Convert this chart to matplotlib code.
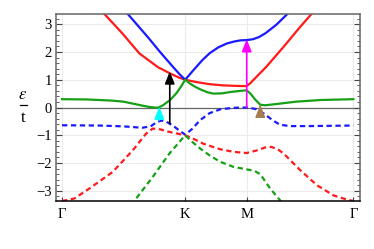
import numpy as np
import matplotlib
matplotlib.use('Agg')
import matplotlib.pyplot as plt
from matplotlib.lines import Line2D
from matplotlib.ticker import MultipleLocator

plt.rcParams.update({'font.family': 'Liberation Serif', 'mathtext.fontset': 'stix',
                     'font.size': 10.5})

# symmetry points along Gamma-K-M-Gamma (|GK| = 1)
K, M = 1.0, 1.5
G2 = M + np.sqrt(3) / 2
sym_pos = [0.0, K, M, G2]
sym_lab = ['Γ', 'K', 'M', 'Γ']

# conduction-like bands (solid)
red_x = [0.30, 0.344, 0.49, 0.628, 0.78, 0.85, 0.90, 0.95, 1.0, 1.1, 1.2, 1.3, 1.4, 1.5,
         1.53, 1.6, 1.66, 1.8, 1.935, 2.03, 2.06]
red_y = [3.55, 3.37, 2.67, 1.95, 1.45, 1.29, 1.18, 1.08, 1.0, 0.91, 0.84, 0.80, 0.78, 0.77,
         0.88, 1.2, 1.47, 2.19, 2.91, 3.39, 3.55]

blue_x = [0.50, 0.534, 0.62, 0.70, 0.80, 0.90, 0.95, 1.0, 1.07, 1.14, 1.2, 1.27, 1.34, 1.4,
          1.45, 1.5, 1.55, 1.6, 1.65, 1.74, 1.83, 1.86]
blue_y = [3.55, 3.37, 2.93, 2.52, 1.98, 1.47, 1.22, 1.0, 1.36, 1.71, 1.96, 2.17, 2.31, 2.38,
          2.42, 2.43, 2.46, 2.54, 2.67, 2.98, 3.37, 3.55]

green_x = [0.0, 0.2, 0.4, 0.5, 0.575, 0.65, 0.71, 0.75, 0.78, 0.82, 0.88, 0.93, 0.97, 1.0,
           1.04, 1.08, 1.12, 1.18, 1.23, 1.3, 1.37, 1.45, 1.5, 1.53, 1.57, 1.61, 1.65, 1.75,
           1.9, 2.1, 2.366]
green_y = [0.30, 0.29, 0.25, 0.21, 0.14, 0.07, 0.02, 0.0, -0.01, 0.08, 0.28, 0.52, 0.78, 1.0,
           0.86, 0.75, 0.66, 0.55, 0.50, 0.51, 0.56, 0.60, 0.62, 0.50, 0.28, 0.10, 0.08, 0.13,
           0.21, 0.27, 0.30]

# valence-like bands (dashed)
vblue_x = [0.0, 0.3, 0.5, 0.65, 0.72, 0.77, 0.81, 0.85, 0.90, 0.95, 1.0, 1.06, 1.12, 1.2,
           1.29, 1.4, 1.5, 1.57, 1.64, 1.71, 1.77, 1.85, 2.0, 2.366]
vblue_y = [-0.64, -0.65, -0.68, -0.73, -0.68, -0.52, -0.47, -0.52, -0.65, -0.82, -0.98,
           -0.76, -0.46, -0.20, -0.06, -0.01, 0.0, -0.05, -0.22, -0.46, -0.62, -0.67, -0.67,
           -0.65]

vred_x = [0.0, 0.1, 0.222, 0.412, 0.575, 0.683, 0.737, 0.80, 0.872, 1.0, 1.122, 1.144,
          1.28, 1.393, 1.5, 1.58, 1.65, 1.70, 1.75, 1.80, 1.935, 2.07, 2.206, 2.315, 2.366]
vred_y = [-3.37, -3.28, -2.92, -2.32, -1.54, -0.94, -0.76, -0.79, -0.88, -1.0, -1.24, -1.3,
          -1.5, -1.6, -1.64, -1.55, -1.44, -1.42, -1.50, -1.66, -2.26, -2.8, -3.17, -3.32,
          -3.37]

vgreen_x = [0.57, 0.59, 0.737, 0.872, 1.0, 1.06, 1.122, 1.2, 1.285, 1.393, 1.5, 1.56, 1.61,
            1.69, 1.772, 1.80]
vgreen_y = [-3.55, -3.35, -2.5, -1.66, -1.0, -1.25, -1.48, -1.73, -1.96, -2.14, -2.23, -2.28,
            -2.40, -2.92, -3.35, -3.55]

# transitions: (k, from, to, colour)
arrows = [(0.79, -0.45, 0.03, '#00ffff'),
          (0.875, -0.58, 1.30, 'black'),
          (1.5, 0.0, 2.46, '#ff00ff'),
          (1.61, -0.02, 0.10, '#a67c52')]

RED, BLUE, GREEN = '#ff1a1a', '#1a1aff', '#16a016'

fig = plt.figure(figsize=(3.74, 2.49), dpi=100)
ax = fig.add_axes([56 / 374, 1 - 201 / 249, 304 / 374, 187 / 249])

for v in sym_pos:
    ax.axvline(v, color='#ebebeb', lw=0.8, zorder=0)
for v in [-3, -2, -1, 1, 2, 3]:
    ax.axhline(v, color='#ebebeb', lw=0.8, zorder=0)
ax.axhline(0, color='#666666', lw=0.9, zorder=1)

lw = 1.6
ax.plot(red_x, red_y, color=RED, lw=lw)
ax.plot(blue_x, blue_y, color=BLUE, lw=lw)
ax.plot(green_x, green_y, color=GREEN, lw=lw)
dash = (0, (2.4, 1.6))
ax.plot(vblue_x, vblue_y, color=BLUE, lw=lw, ls=dash)
ax.plot(vred_x, vred_y, color=RED, lw=lw, ls=dash)
ax.plot(vgreen_x, vgreen_y, color=GREEN, lw=lw, ls=dash)

for k, e0, e1, c in arrows:
    ax.annotate('', xy=(k, e1), xytext=(k, e0),
                arrowprops=dict(arrowstyle='-|>,head_length=0.7,head_width=0.28',
                                color=c, lw=1.2, shrinkA=0, shrinkB=0), zorder=5)

ax.set_xlim(-0.049, 2.42)
ax.set_ylim(-3.37, 3.37)
ax.set_xticks(sym_pos)
ax.set_xticklabels(sym_lab)
ax.set_yticks([-3, -2, -1, 0, 1, 2, 3])
ax.set_yticklabels(['\u22123', '\u22122', '\u22121', '0', '1', '2', '3'])
ax.yaxis.set_minor_locator(MultipleLocator(0.2))
ax.tick_params(axis='y', which='major', direction='in', length=4, width=0.8,
               right=True, colors='#444444', labelcolor='black', pad=3)
ax.tick_params(axis='y', which='minor', direction='in', length=2, width=0.6,
               right=True, colors='#444444')
ax.tick_params(axis='x', which='major', direction='in', length=3, width=0.8,
               colors='#444444', labelcolor='black', pad=5)
for s in ['left', 'right', 'top']:
    ax.spines[s].set_color('#666666')
    ax.spines[s].set_linewidth(1.1)
ax.spines['bottom'].set_color('black')
ax.spines['bottom'].set_linewidth(1.1)

# y label as a stacked fraction: epsilon over t
fig.text(23 / 374, 1 - 95 / 249, r'$\epsilon$', fontsize=12, ha='center', va='center')
fig.text(23 / 374, 1 - 118 / 249, 't', fontsize=12, ha='center', va='center')
fig.add_artist(Line2D([19.5 / 374, 26.5 / 374], [1 - 105 / 249, 1 - 105 / 249],
                      color='black', lw=0.9, transform=fig.transFigure))

fig.savefig('out.png', dpi=100)
